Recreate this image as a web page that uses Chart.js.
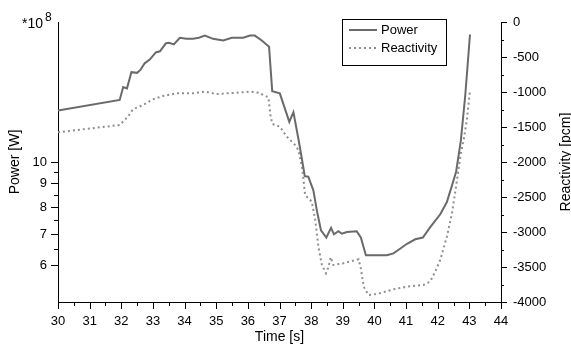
<!DOCTYPE html>
<html><head><meta charset="utf-8">
<script src="https://cdn.jsdelivr.net/npm/chart.js@4.4.1/dist/chart.umd.min.js"></script>
<style>html,body{margin:0;padding:0;background:#fff}canvas{display:block}</style>
</head><body>
<canvas id="c" width="571" height="346"></canvas>
<script>
// ---- data ----
const powerTime   = [30.0,31.95,32.06,32.18,32.32,32.5,32.61,32.74,32.9,33.09,33.22,33.41,33.51,33.66,33.85,34.06,34.27,34.45,34.64,34.9,35.22,35.49,35.85,36.07,36.22,36.44,36.67,36.77,37.01,37.31,37.44,37.62,37.8,37.91,38.07,38.18,38.31,38.48,38.63,38.72,38.86,38.97,39.13,39.44,39.57,39.73,40.39,40.6,40.81,41.03,41.29,41.53,41.77,42.08,42.29,42.58,42.73,42.87,43.02];
const powerValues = [12.9,13.6,14.5,14.4,15.6,15.55,15.8,16.3,16.6,17.2,17.3,18.0,18.05,17.9,18.5,18.4,18.4,18.5,18.7,18.4,18.25,18.5,18.5,18.7,18.7,18.25,17.7,14.2,14.05,12.2,12.8,11.0,9.32,9.3,8.69,7.87,7.13,6.88,7.22,6.99,7.1,7.01,7.07,7.1,6.88,6.3,6.3,6.36,6.51,6.67,6.82,6.88,7.25,7.72,8.2,9.52,11.1,13.9,18.8]; // x10^8 W
const reactTime   = [30.0,31.95,32.21,32.37,32.69,33.0,33.32,33.75,34.27,34.64,35.01,35.65,36.12,36.33,36.65,36.72,36.78,37.01,37.23,37.39,37.49,37.6,37.72,37.81,38.02,38.13,38.23,38.34,38.47,38.55,38.62,38.7,39.02,39.5,39.57,39.66,39.81,40.08,40.6,41.03,41.55,41.76,41.92,42.08,42.29,42.45,42.61,42.73,42.82,42.92,43.02];
const reactValues = [-1576,-1471,-1353,-1247,-1186,-1105,-1057,-1019,-1019,-995,-1029,-1010,-995,-1010,-1076,-1353,-1457,-1495,-1638,-1710,-1757,-1830,-2100,-2471,-2567,-2829,-3210,-3471,-3590,-3495,-3361,-3471,-3447,-3390,-3519,-3781,-3900,-3886,-3819,-3781,-3757,-3710,-3567,-3400,-3067,-2733,-2257,-1876,-1686,-1400,-980];
const seriesNames = ['Power','Reactivity'];
const powerTickValues = [6,6.5,7,7.5,8,8.5,9,9.5,10];
const xRange = [30,44];
const powerRange = [5,20];
const reactRange = [-4000,0];
const axisTitles = {x:'Time [s]', y:'Power [W]', y2:'Reactivity [pcm]', mult:'*10', exp:'8'};

const FONT = '"Liberation Sans", Arial, Helvetica, sans-serif';
const powerColor = '#6a6a6a';
const reactColor = '#8e8e8e';

const toXY = (xs, ys) => xs.map((x,i)=>({x, y: ys[i]}));

const extras = {
  id:'extras',
  afterDraw(chart){
    const ctx = chart.ctx, ca = chart.chartArea;
    const sx = chart.scales.x, sy = chart.scales.y, sr = chart.scales.y2;
    ctx.save();
    ctx.strokeStyle = '#000'; ctx.lineWidth = 1;
    const seg=(x1,y1,x2,y2)=>{ctx.beginPath();ctx.moveTo(x1,y1);ctx.lineTo(x2,y2);ctx.stroke();};
    sx.ticks.forEach(t=>{
      const p = Math.round(sx.getPixelForValue(t.value))+0.5;
      const L = Number.isInteger(t.value)?7:4;
      seg(p, ca.bottom, p, ca.bottom+L);
    });
    sy.ticks.forEach(t=>{
      const p = Math.round(sy.getPixelForValue(t.value))+0.5;
      const L = Number.isInteger(t.value)?7:4;
      seg(ca.left, p, ca.left-L, p);
    });
    sr.ticks.forEach(t=>{
      const p = Math.round(sr.getPixelForValue(t.value))+0.5;
      const L = (t.value % 500 === 0)?6:3;
      seg(ca.right, p, ca.right+L, p);
    });
    ctx.fillStyle = '#000';
    ctx.textBaseline = 'alphabetic';
    ctx.textAlign = 'left';
    ctx.font = '14px '+FONT;
    ctx.fillText(axisTitles.mult, ca.left-36, ca.top+6);
    ctx.font = '12px '+FONT;
    ctx.fillText(axisTitles.exp, ca.left-13, ca.top-1);
    ctx.save();
    ctx.font = '14px '+FONT;
    ctx.translate(566, (ca.top+ca.bottom)/2);
    ctx.rotate(-Math.PI/2);
    ctx.textAlign='center'; ctx.textBaseline='middle';
    ctx.fillText(axisTitles.y2, 0, 0);
    ctx.restore();
    const bx = 342, by = 19, bw = 104, bh = 46;
    ctx.strokeStyle='#000'; ctx.lineWidth=1;
    ctx.strokeRect(bx+0.5, by+0.5, bw, bh);
    ctx.font = '13px '+FONT;
    ctx.textAlign='left'; ctx.textBaseline='middle';
    chart.data.datasets.forEach((ds,i)=>{
      const yy = by + 11 + i*18;
      ctx.save();
      ctx.strokeStyle = ds.borderColor; ctx.lineWidth = ds.borderWidth;
      ctx.setLineDash(ds.borderDash||[]);
      seg(bx+7, yy, bx+35, yy);
      ctx.restore();
      ctx.fillStyle='#000';
      ctx.fillText(ds.label, bx+39, yy);
    });
    ctx.restore();
  }
};

new Chart(document.getElementById('c'), {
  type:'line',
  data:{datasets:[
    {label:seriesNames[0], data:toXY(powerTime,powerValues), yAxisID:'y', borderColor:powerColor, borderWidth:2, pointRadius:0, tension:0, fill:false},
    {label:seriesNames[1], data:toXY(reactTime,reactValues), yAxisID:'y2', borderColor:reactColor, borderWidth:2, borderDash:[2,3], pointRadius:0, tension:0, fill:false}
  ]},
  options:{
    responsive:false, animation:false, devicePixelRatio:1,
    layout:{padding:{top:22,left:0,right:0,bottom:0}},
    plugins:{legend:{display:false}, tooltip:{enabled:false}},
    scales:{
      x:{type:'linear', position:'bottom', min:xRange[0], max:xRange[1],
        ticks:{stepSize:0.5, autoSkip:false, maxRotation:0, padding:12, color:'#000', font:{family:FONT,size:13},
          callback:v=>Number.isInteger(v)?String(v):''},
        grid:{drawOnChartArea:false, drawTicks:false},
        border:{display:true, color:'#000', width:1},
        title:{display:true, text:axisTitles.x, color:'#000', font:{family:FONT,size:14}, padding:{top:0,bottom:0}},
        afterFit:s=>{s.height=44;}
      },
      y:{type:'logarithmic', position:'left', min:powerRange[0], max:powerRange[1],
        afterBuildTicks:s=>{s.ticks = powerTickValues.map(v=>({value:v}));},
        ticks:{autoSkip:false, padding:11, color:'#000', font:{family:FONT,size:13},
          callback:v=>Number.isInteger(v)?String(v):''},
        grid:{drawOnChartArea:false, drawTicks:false},
        border:{display:true, color:'#000', width:1},
        title:{display:true, text:axisTitles.y, color:'#000', font:{family:FONT,size:14}, padding:{top:7,bottom:0}},
        afterFit:s=>{s.width=58;}
      },
      y2:{type:'linear', position:'right', min:reactRange[0], max:reactRange[1],
        ticks:{stepSize:250, autoSkip:false, padding:12, color:'#000', font:{family:FONT,size:13},
          callback:v=>(v%500===0)?String(v):''},
        grid:{drawOnChartArea:false, drawTicks:false},
        border:{display:true, color:'#000', width:1},
        afterFit:s=>{s.width=70;}
      }
    }
  },
  plugins:[extras]
});
</script>
</body></html>
